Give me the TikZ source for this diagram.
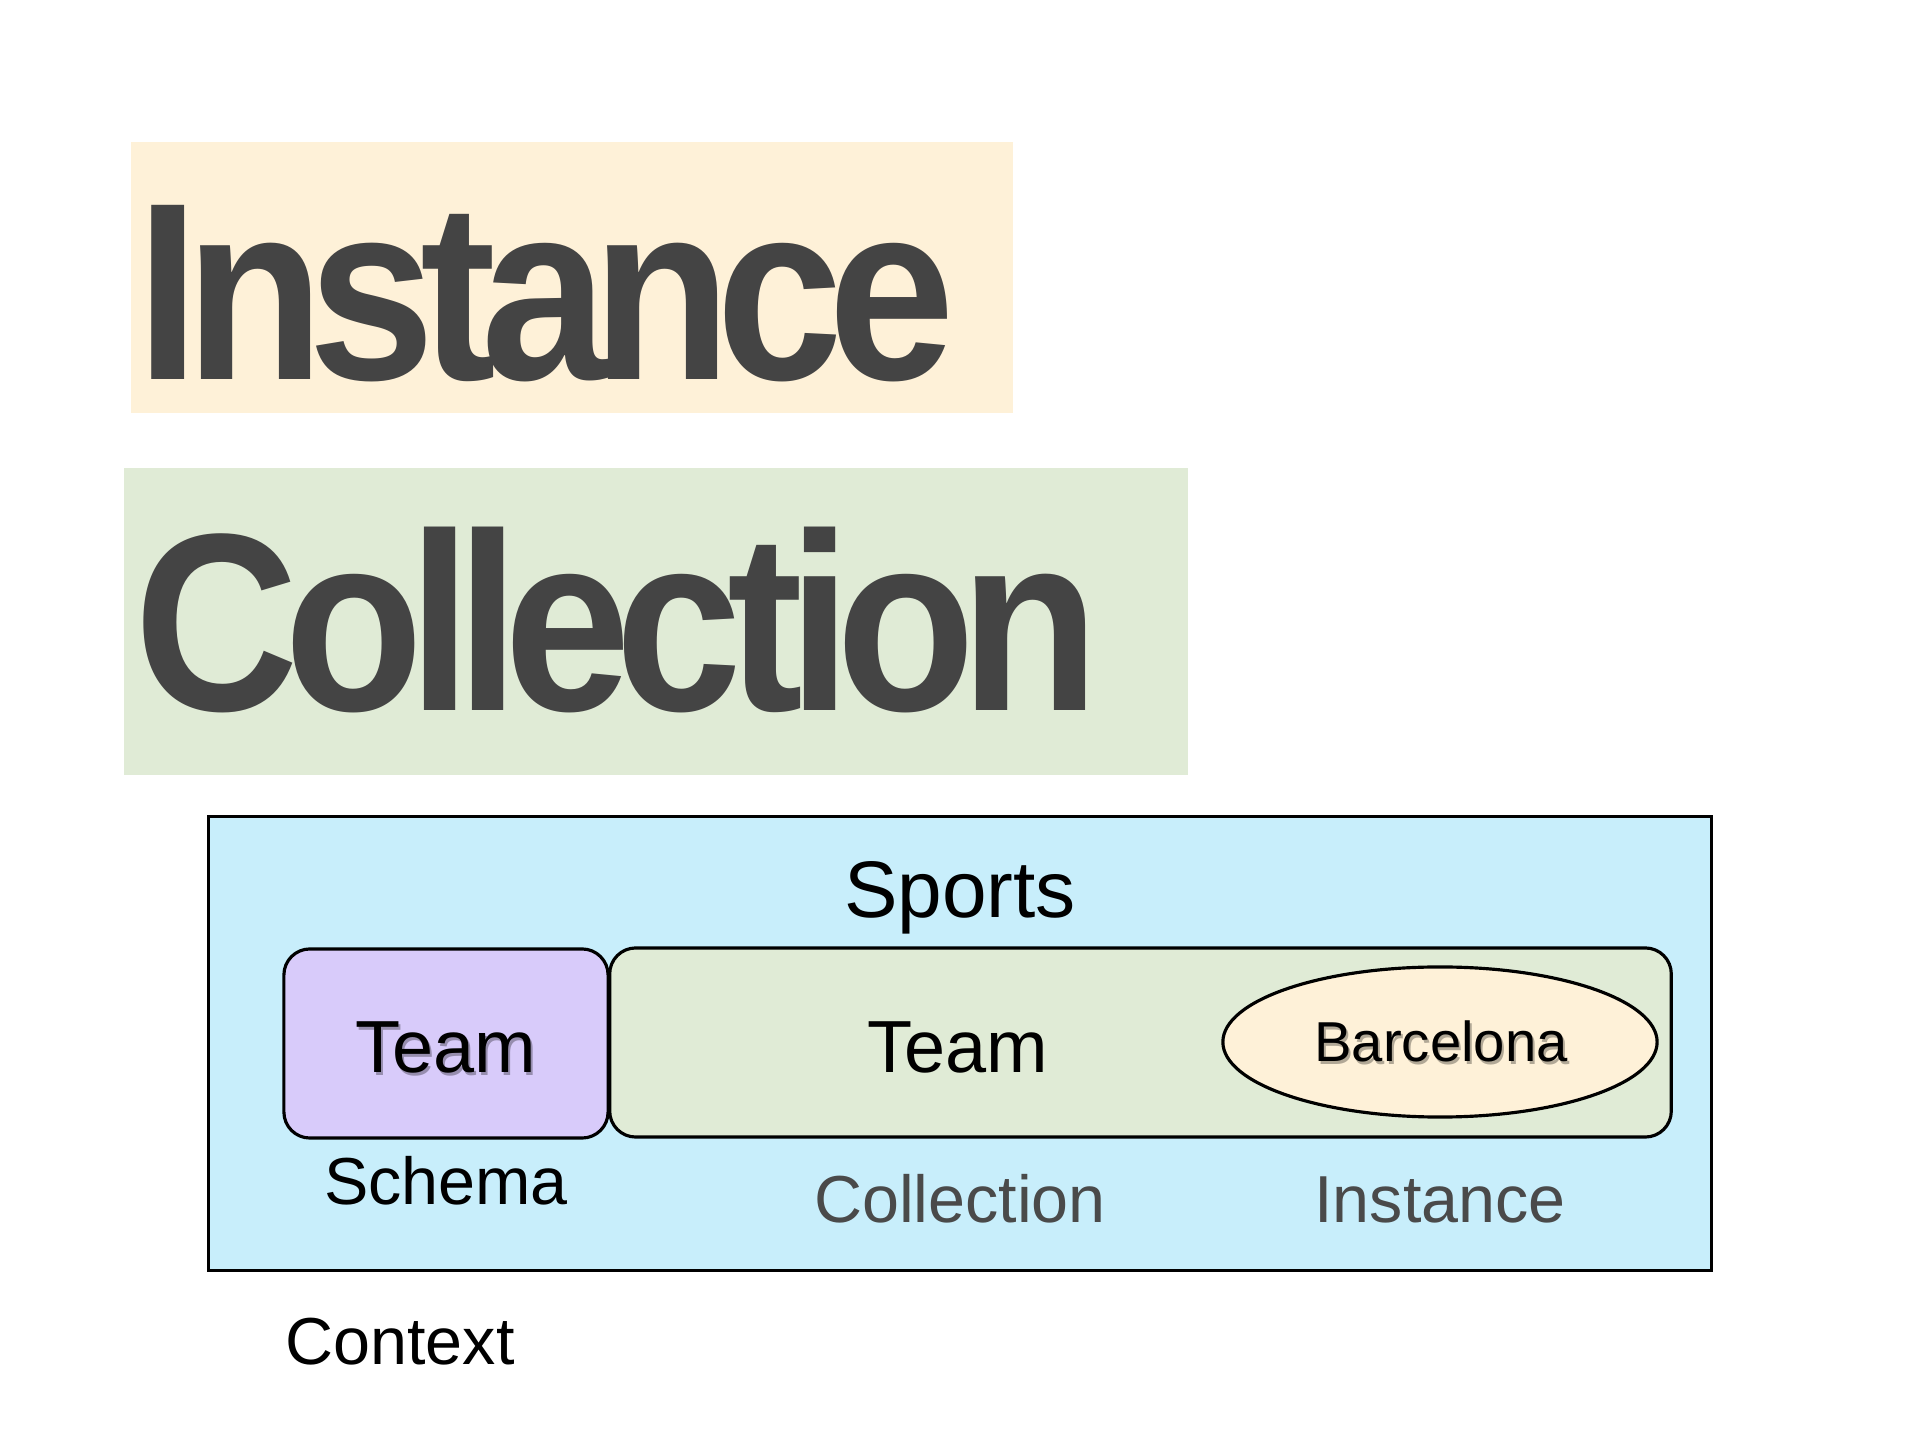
\documentclass[tikz,border=0pt]{standalone}
\usepackage{fontspec}
\setmainfont{Liberation Sans}
\newfontfamily\bigfont[FakeStretch=0.9,LetterSpace=-6]{Liberation Sans}
\usetikzlibrary{shapes.geometric}
\definecolor{cream}{HTML}{FEF1D8}
\definecolor{sage}{HTML}{E0EBD6}
\definecolor{sky}{HTML}{C8EEFB}
\definecolor{lilac}{HTML}{D8CBFA}
\definecolor{ink}{HTML}{444444}
\definecolor{labelgray}{HTML}{4A4A4A}
\tikzset{
  bigword/.style={anchor=base west, inner sep=0pt, text=ink, font=\bigfont\bfseries\fontsize{72}{72}\selectfont},
  boxline/.style={draw=black, line width=0.9pt},
  rbox/.style={boxline, rectangle, rounded corners=0.26cm, inner sep=0pt, minimum height=1.89cm},
  lbl/.style={anchor=base, inner sep=0pt, font=\fontsize{18.9}{18.9}\selectfont},
  teamtxt/.style={anchor=base, inner sep=0pt, font=\fontsize{21}{21}\selectfont},
  shadowtxt/.style={text=black, opacity=0.3},
}
\begin{document}
\begin{tikzpicture}[x=0.01cm,y=-0.01cm]
\useasboundingbox[fill=white] (0,0) rectangle (1920,1440);
% Title boxes
\node[fill=cream, inner sep=0pt, minimum width=8.82cm, minimum height=2.71cm] (instbg) at (572,277.5) {};
\node[bigword] (insttitle) at (136,380) {Instance};
\node[fill=sage, inner sep=0pt, minimum width=10.64cm, minimum height=3.07cm] (collbg) at (656,621.5) {};
\node[bigword] (colltitle) at (134,711) {Collection};
% Sports container
\node[boxline, fill=sky, rectangle, inner sep=0pt, minimum width=15.02cm, minimum height=4.53cm] (sports) at (960,1043.5) {};
\node[anchor=base, inner sep=0pt, font=\fontsize{22.8}{22.8}\selectfont] (sportslbl) at (960,918) {Sports};
% Schema box
\node[rbox, fill=lilac, minimum width=3.24cm] (schema) at (446,1043.5) {};
\node[teamtxt, shadowtxt] (teamAs) at (448,1076) {Team};
\node[teamtxt] (teamA) at (446,1073) {Team};
% Collection box
\node[rbox, fill=sage, minimum width=10.61cm] (coll) at (1140.5,1042.5) {};
\node[teamtxt] (teamB) at (958,1073) {Team};
% Instance ellipse
\node[boxline, ellipse, fill=cream, inner sep=0pt, minimum width=4.34cm, minimum height=1.50cm] (barca) at (1440,1042) {};
\node[anchor=base, inner sep=0pt, font=\fontsize{16}{16}\selectfont, shadowtxt] (barcaTs) at (1443,1065) {Barcelona};
\node[anchor=base, inner sep=0pt, font=\fontsize{16}{16}\selectfont] (barcaT) at (1441,1062) {Barcelona};
% Labels
\node[lbl] (schemalbl) at (446,1205) {Schema};
\node[lbl, text=labelgray] (colllbl) at (960,1223) {Collection};
\node[lbl, text=labelgray] (instlbl) at (1440,1223) {Instance};
\node[lbl] (context) at (400,1365) {Context};
\end{tikzpicture}
\end{document}
